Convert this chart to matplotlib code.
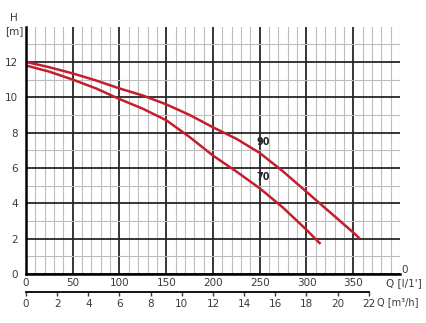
import numpy as np
import matplotlib.pyplot as plt
from matplotlib.ticker import MultipleLocator, FixedLocator

# flow Q [l/min] -> head H [m]
q_90 = [0, 25, 50, 75, 100, 125, 150, 175, 200, 225, 250, 275, 300, 325, 350, 357]
h_90 = [12.0, 11.7, 11.35, 10.95, 10.5, 10.1, 9.6, 9.0, 8.3, 7.65, 6.85, 5.8, 4.65, 3.5, 2.35, 2.0]
q_70 = [0, 25, 50, 75, 100, 125, 150, 175, 200, 225, 250, 275, 300, 315]
h_70 = [11.8, 11.45, 11.0, 10.5, 9.9, 9.35, 8.7, 7.75, 6.7, 5.8, 4.85, 3.75, 2.5, 1.7]

q_ticks = [0, 50, 100, 150, 200, 250, 300, 350]
h_ticks = [0, 2, 4, 6, 8, 10, 12]
m3h_ticks = [0, 2, 4, 6, 8, 10, 12, 14, 16, 18, 20, 22]

red = '#c41e2c'
txt = '#3a3a3a'

fig = plt.figure(figsize=(4.27, 3.23), dpi=100)
ax = fig.add_axes([26 / 427, 1 - 274 / 323, 374 / 427, 247.4 / 323])

ax.set_xlim(0, 400)
ax.set_ylim(0, 14)
ax.xaxis.set_major_locator(FixedLocator(q_ticks))
ax.xaxis.set_minor_locator(MultipleLocator(10))
ax.yaxis.set_major_locator(FixedLocator(h_ticks))
ax.yaxis.set_minor_locator(FixedLocator([1, 3, 5, 7, 9, 11, 13]))

ax.grid(which='major', color='#262626', linewidth=1.3)
ax.grid(which='minor', color='#bdbdbd', linewidth=0.8)
ax.set_axisbelow(True)

ax.plot(q_90, h_90, color=red, linewidth=1.8, solid_capstyle='butt')
ax.plot(q_70, h_70, color=red, linewidth=1.8, solid_capstyle='butt')
ax.text(254, 7.45, '90', fontsize=7, fontweight='bold', ha='center', va='center', color='#222222')
ax.text(254, 5.5, '70', fontsize=7, fontweight='bold', ha='center', va='center', color='#222222')

for s in ['top', 'right']:
    ax.spines[s].set_visible(False)
ax.spines['left'].set_linewidth(1.8)
ax.spines['bottom'].set_linewidth(1.8)

ax.tick_params(which='both', length=0, labelsize=7.5, colors=txt)
ax.tick_params(axis='x', pad=3)
ax.tick_params(axis='y', pad=6)

# right end labels
ax.text(402, 0.25, '0', fontsize=7.5, ha='left', va='center', color=txt)
fig.text(386 / 427, 1 - 283 / 323, "Q [l/1']", fontsize=7.5, ha='left', va='center', color=txt)
fig.text(14 / 427, 1 - 18 / 323, 'H', fontsize=7.5, ha='center', va='center', color=txt)
fig.text(14 / 427, 1 - 31 / 323, '[m]', fontsize=7.5, ha='center', va='center', color=txt)

# second flow scale in m3/h
sec = ax.secondary_xaxis(-0.073, functions=(lambda q: q * 0.06, lambda m: m / 0.06))
sec.xaxis.set_major_locator(FixedLocator(m3h_ticks))
sec.spines['bottom'].set_bounds(0, 22)
sec.spines['bottom'].set_linewidth(1.3)
sec.tick_params(length=3, width=1, labelsize=7.5, colors=txt, pad=2)
fig.text(377 / 427, 1 - 302 / 323, 'Q [m³/h]', fontsize=7, ha='left', va='center', color=txt)

fig.savefig('out.png', dpi=100)
